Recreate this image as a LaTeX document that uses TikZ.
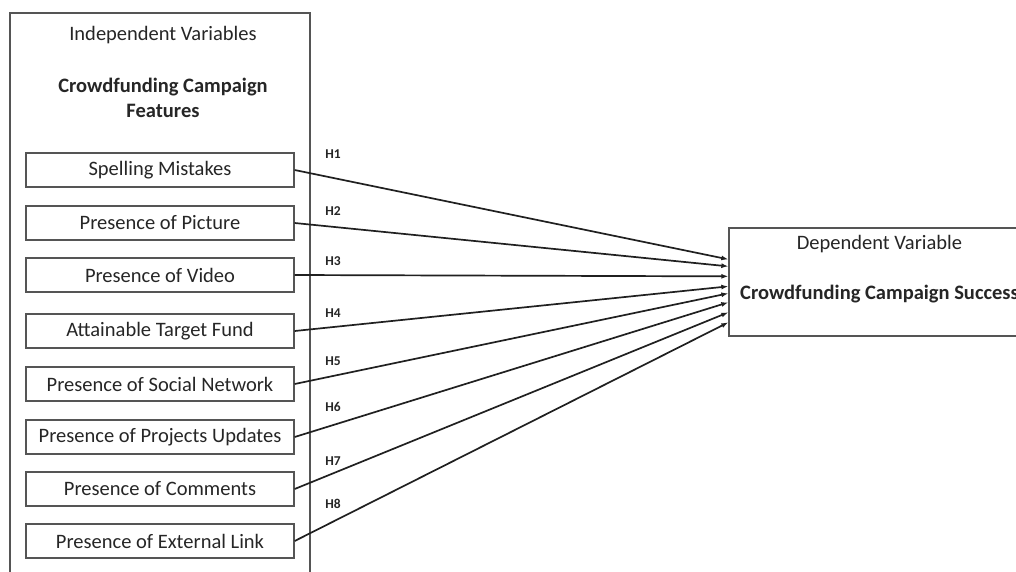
\documentclass[tikz,border=0pt]{standalone}
\usepackage{fontspec}
\setmainfont{Carlito}
\usetikzlibrary{arrows.meta}
\definecolor{framec}{HTML}{555555}
\definecolor{linec}{HTML}{202020}
\definecolor{textc}{HTML}{262626}
\begin{document}
\begin{tikzpicture}[x=1pt,y=-1pt,
  frame/.style={draw=framec,line width=1.3pt},
  ivbox/.style={draw=framec,line width=1.3pt,minimum width=268pt,minimum height=34pt,inner sep=0pt,
    font=\fontsize{20.5}{24.6}\selectfont,text=textc},
  plain/.style={inner sep=0pt,font=\fontsize{20.5}{25}\selectfont,text=textc,align=center},
  boldt/.style={plain,font=\fontsize{20.5}{25}\selectfont\bfseries},
  hlab/.style={inner sep=0pt,font=\fontsize{13.5}{15}\selectfont\bfseries,text=textc},
  arr/.style={draw=linec,line width=1.7pt,-{Latex[length=7pt,width=5pt]}}]
\useasboundingbox (0,0) rectangle (1016,571);
\fill[white] (0,0) rectangle (1016,571);
% outer frame (bottom cut off)
\draw[frame] (10,590) -- (10,13) -- (310,13) -- (310,590);
\node[plain] (ivt) at (163,35) {Independent Variables};
\node[boldt] (ivb) at (163,97.5) {Crowdfunding Campaign\\Features};
% independent variable boxes
\node[ivbox] (b1) at (160,170) {Spelling Mistakes};
\node[ivbox] (b2) at (160,223) {Presence of Picture};
\node[ivbox] (b3) at (160,275) {Presence of Video};
\node[ivbox] (b4) at (160,331) {Attainable Target Fund};
\node[ivbox] (b5) at (160,384) {Presence of Social Network};
\node[ivbox] (b6) at (160,437) {Presence of Projects Updates};
\node[ivbox] (b7) at (160,489) {Presence of Comments};
\node[ivbox] (b8) at (160,541) {Presence of External Link};
% dependent box (right side cut off)
\node[frame,minimum width=301pt,minimum height=108pt,inner sep=0pt] (dep) at (879.5,282) {};
\node[plain] (dept) at (879.5,244) {Dependent Variable};
\node[boldt] (depb) at (879.5,294) {Crowdfunding Campaign Success};
% arrow targets
\coordinate (e1) at ([yshift=-32pt]dep.north west);
\coordinate (e2) at ([yshift=-39pt]dep.north west);
\coordinate (e3) at ([yshift=-49pt]dep.north west);
\coordinate (e4) at ([yshift=-59pt]dep.north west);
\coordinate (e5) at ([yshift=-66pt]dep.north west);
\coordinate (e6) at ([yshift=-75pt]dep.north west);
\coordinate (e7) at ([yshift=-85pt]dep.north west);
\coordinate (e8) at ([yshift=-95pt]dep.north west);
\foreach \i in {1,...,8}{\draw[arr] (b\i.east) -- (e\i);}
% hypothesis labels
\node[hlab] (h1) at (333,154) {H1};
\node[hlab] (h2) at (333,211) {H2};
\node[hlab] (h3) at (333,261) {H3};
\node[hlab] (h4) at (333,313) {H4};
\node[hlab] (h5) at (333,361) {H5};
\node[hlab] (h6) at (333,407) {H6};
\node[hlab] (h7) at (333,461) {H7};
\node[hlab] (h8) at (333,504) {H8};
\end{tikzpicture}
\end{document}
